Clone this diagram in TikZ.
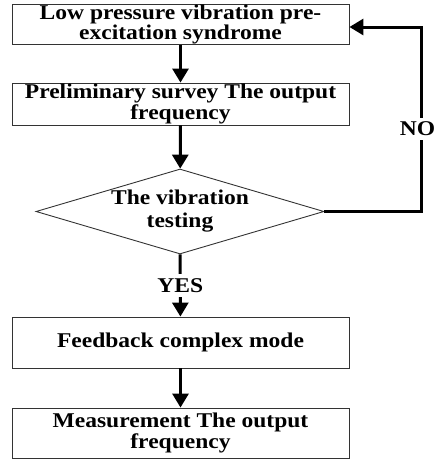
\documentclass[tikz,border=0pt]{standalone}
\usepackage{fontspec}
\setmainfont{Liberation Serif}[FakeStretch=1.12]
\usetikzlibrary{shapes.geometric}
\usetikzlibrary{positioning, arrows.meta}

\begin{document}
\begin{tikzpicture}[x=1pt, y=-1pt,
			block/.style={rectangle, draw=black!80, line width=0.9pt, minimum width=337pt, inner sep=0pt, align=center, font=\bfseries\fontsize{21}{20.5}\selectfont},
			test/.style={diamond, draw=black!80, line width=0.9pt, aspect=3.39, minimum width=288pt, minimum height=85pt, inner sep=0pt, align=center, font=\bfseries\fontsize{21}{23}\selectfont},
			mylabel/.style={fill=white, inner xsep=1pt, inner ysep=4pt, font=\bfseries\fontsize{21}{20.5}\selectfont},
			flow/.style={line width=3pt},
			>={Triangle[length=14pt, width=16pt]}
			]
			\useasboundingbox (0,0) rectangle (437,459);
			\node[block, minimum height=39pt] (low) at (180.5, 24.5) {Low pressure vibration pre-\\excitation syndrome};
			\node[block, minimum height=42pt] (prelim) at (180.5, 104) {Preliminary survey The output\\frequency};
			\node[test] (vib) at (180, 211.5) {The vibration\\testing};
			\node[block, minimum height=51pt] (feed) at (180.5, 342.5) {Feedback complex mode};
			\node[block, minimum height=50pt] (meas) at (180.5, 433) {Measurement The output\\frequency};
			\coordinate (turn) at (421, 27);
			
			\draw[flow, ->] (low) to (prelim);
			\draw[flow, ->] (prelim) to (vib);
			\draw[flow, ->] (vib) to node[mylabel]{YES} (feed);
			\draw[flow, ->] (feed) to (meas);
			% NO goes back to the top
			\draw[flow, ->] (vib.east) -| node[mylabel, pos=0.724, xshift=-3.5pt]{NO} (turn) -- (turn -| low.east);
			\end{tikzpicture}
\end{document}
